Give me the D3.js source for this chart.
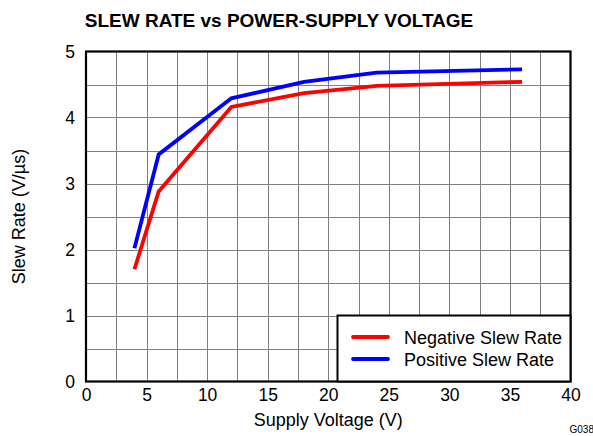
<!DOCTYPE html>
<html>
<head>
<meta charset="utf-8">
<script src="https://cdn.jsdelivr.net/npm/d3@7"></script>
<style>
  html, body { margin: 0; padding: 0; background: #fff; }
  svg { display: block; font-family: "Liberation Sans", Arial, sans-serif; }
</style>
</head>
<body>
<svg id="chart" width="593" height="436"></svg>
<script>
// Slew rate measured against supply voltage
const supplyVoltage = [4, 6, 12, 18, 24, 36];
const negativeSlew = [1.70, 2.88, 4.16, 4.37, 4.48, 4.54];
const positiveSlew = [2.02, 3.44, 4.29, 4.54, 4.68, 4.73];
const xTicks = [0, 5, 10, 15, 20, 25, 30, 35, 40];
const yTicks = [0, 1, 2, 3, 4, 5];
const seriesNames = ["Negative Slew Rate", "Positive Slew Rate"];
const seriesColors = ["#ff0000", "#0000ff"];

const svg = d3.select("#chart");
const plot = { left: 86, right: 570.5, top: 51.5, bottom: 381.5 };

const x = d3.scaleLinear().domain([0, 40]).range([plot.left, plot.right]);
const y = d3.scaleLinear().domain([0, 5]).range([plot.bottom, plot.top]);

// grid: minor lines every 2.5 V and 0.5 V/µs
const g = svg.append("g");
g.selectAll("line.vx").data(d3.range(2.5, 40, 2.5)).join("line")
  .attr("x1", d => Math.round(x(d)) + 0.5).attr("x2", d => Math.round(x(d)) + 0.5)
  .attr("y1", plot.top).attr("y2", plot.bottom)
  .attr("stroke", "#808080").attr("stroke-width", 1);
g.selectAll("line.hy").data(d3.range(0.5, 5, 0.5)).join("line")
  .attr("y1", d => Math.round(y(d)) + 0.5).attr("y2", d => Math.round(y(d)) + 0.5)
  .attr("x1", plot.left).attr("x2", plot.right)
  .attr("stroke", "#808080").attr("stroke-width", 1);

// axes (labels only, frame drawn separately)
const xAxis = svg.append("g").attr("transform", `translate(0,${plot.bottom})`)
  .call(d3.axisBottom(x).tickValues(xTicks).tickSize(0).tickPadding(7).tickFormat(d3.format("d")));
xAxis.select(".domain").remove();
xAxis.selectAll("text").attr("font-size", 17.5).attr("fill", "#000")
  .attr("font-family", "Liberation Sans, Arial, sans-serif");

const yAxis = svg.append("g").attr("transform", `translate(${plot.left},0)`)
  .call(d3.axisLeft(y).tickValues(yTicks).tickSize(0).tickPadding(11).tickFormat(d3.format("d")));
yAxis.select(".domain").remove();
yAxis.selectAll("text").attr("font-size", 17.5).attr("fill", "#000")
  .attr("font-family", "Liberation Sans, Arial, sans-serif");

// frame
svg.append("rect")
  .attr("x", plot.left).attr("y", plot.top)
  .attr("width", plot.right - plot.left).attr("height", plot.bottom - plot.top)
  .attr("fill", "none").attr("stroke", "#000").attr("stroke-width", 2.2);

// curves
const line = d3.line().x(d => x(d[0])).y(d => y(d[1]));
[negativeSlew, positiveSlew].forEach((vals, i) => {
  svg.append("path")
    .datum(supplyVoltage.map((v, j) => [v, vals[j]]))
    .attr("d", line)
    .attr("fill", "none")
    .attr("stroke", seriesColors[i])
    .attr("stroke-width", 3.8)
    .attr("stroke-linejoin", "miter");
});

// legend
const legend = svg.append("g");
legend.append("rect")
  .attr("x", 337.5).attr("y", 315.5).attr("width", 233).attr("height", 66)
  .attr("fill", "#fff").attr("stroke", "#000").attr("stroke-width", 2);
seriesNames.forEach((name, i) => {
  const ly = 337 + i * 22;
  legend.append("line")
    .attr("x1", 353).attr("x2", 388).attr("y1", ly).attr("y2", ly)
    .attr("stroke", seriesColors[i]).attr("stroke-width", 3.8).attr("stroke-linecap", "round");
  legend.append("text")
    .attr("x", 404).attr("y", ly + 6.5)
    .attr("font-size", 18).attr("fill", "#000").text(name);
});

// titles
svg.append("text")
  .attr("x", 279).attr("y", 27).attr("text-anchor", "middle")
  .attr("font-size", 19).attr("font-weight", "bold").attr("fill", "#000")
  .text("SLEW RATE vs POWER-SUPPLY VOLTAGE");

svg.append("text")
  .attr("x", (plot.left + plot.right) / 2).attr("y", 426).attr("text-anchor", "middle")
  .attr("font-size", 18).attr("fill", "#000")
  .text("Supply Voltage (V)");

svg.append("text")
  .attr("transform", `translate(25,${(plot.top + plot.bottom) / 2}) rotate(-90)`)
  .attr("text-anchor", "middle")
  .attr("font-size", 18).attr("fill", "#000")
  .text("Slew Rate (V/µs)");

svg.append("text")
  .attr("x", 569.5).attr("y", 432.5)
  .attr("font-size", 10).attr("fill", "#000")
  .text("G038");
</script>
</body>
</html>
